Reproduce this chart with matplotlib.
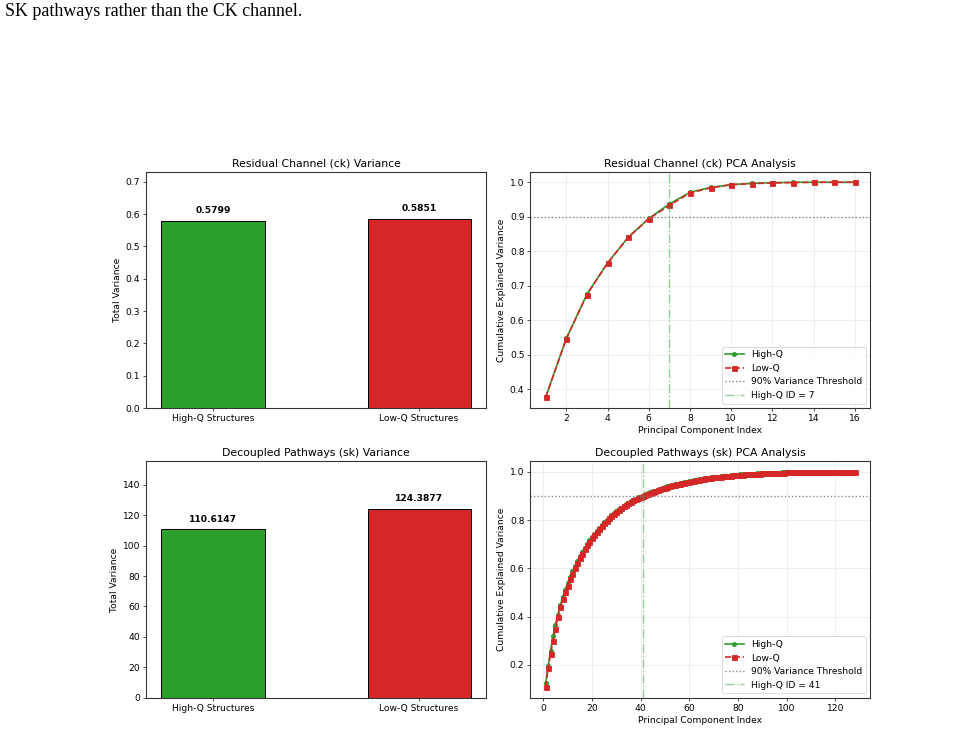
import matplotlib
matplotlib.use("Agg")
import matplotlib.pyplot as plt

# bar data (total variance)
groups = ["High-Q Structures", "Low-Q Structures"]
ck_total = [0.5799, 0.5851]
sk_total = [110.6147, 124.3877]
bar_colors = ["#2ca02c", "#d62728"]

# cumulative explained variance, residual channel (ck)
ck_high = [0.377, 0.547, 0.675, 0.766, 0.840, 0.895, 0.937, 0.971,
           0.985, 0.993, 0.997, 0.999, 1.000, 1.000, 1.000, 1.000]
ck_low = [0.376, 0.546, 0.674, 0.765, 0.840, 0.894, 0.933, 0.969,
          0.984, 0.993, 0.996, 0.998, 0.999, 1.000, 1.000, 1.000]
ck_id = 7

# cumulative explained variance, decoupled pathways (sk), 128 components
sk_high = [0.124, 0.197, 0.259, 0.318, 0.367, 0.408, 0.447, 0.481, 0.512, 0.540,
           0.565, 0.589, 0.611, 0.632, 0.651, 0.669, 0.686, 0.702, 0.717, 0.731,
           0.744, 0.757, 0.769, 0.780, 0.791, 0.801, 0.811, 0.820, 0.829, 0.837,
           0.845, 0.852, 0.859, 0.866, 0.872, 0.878, 0.884, 0.889, 0.894, 0.898,
           0.902, 0.907, 0.911, 0.915, 0.919, 0.923, 0.927, 0.930, 0.934, 0.937,
           0.940, 0.943, 0.946, 0.949, 0.951, 0.954, 0.956, 0.958, 0.960, 0.962,
           0.964, 0.966, 0.968, 0.970, 0.972, 0.973, 0.975, 0.976, 0.978, 0.979,
           0.980, 0.981, 0.982, 0.983, 0.984, 0.985, 0.986, 0.987, 0.988, 0.989,
           0.990, 0.990, 0.991, 0.992, 0.992, 0.993, 0.993, 0.994, 0.994, 0.995,
           0.995, 0.996, 0.996, 0.996, 0.997, 0.997, 0.997, 0.998, 0.998, 0.998,
           0.998, 0.999, 0.999, 0.999, 0.999, 0.999, 0.999, 0.999, 0.999, 0.999,
           1.000, 1.000, 1.000, 1.000, 1.000, 1.000, 1.000, 1.000, 1.000, 1.000,
           1.000, 1.000, 1.000, 1.000, 1.000, 1.000, 1.000, 1.000]
sk_low = [0.108, 0.186, 0.245, 0.300, 0.350, 0.398, 0.440, 0.475, 0.503, 0.528,
          0.554, 0.578, 0.601, 0.622, 0.642, 0.661, 0.679, 0.695, 0.711, 0.725,
          0.739, 0.752, 0.764, 0.776, 0.787, 0.797, 0.807, 0.817, 0.826, 0.834,
          0.842, 0.850, 0.857, 0.864, 0.870, 0.876, 0.882, 0.887, 0.892, 0.897,
          0.901, 0.905, 0.909, 0.913, 0.917, 0.921, 0.925, 0.928, 0.932, 0.935,
          0.938, 0.941, 0.944, 0.947, 0.949, 0.952, 0.954, 0.956, 0.958, 0.960,
          0.962, 0.964, 0.966, 0.968, 0.970, 0.972, 0.973, 0.975, 0.976, 0.978,
          0.979, 0.980, 0.981, 0.982, 0.983, 0.984, 0.985, 0.986, 0.987, 0.988,
          0.989, 0.989, 0.990, 0.991, 0.991, 0.992, 0.992, 0.993, 0.993, 0.994,
          0.994, 0.995, 0.995, 0.996, 0.996, 0.996, 0.997, 0.997, 0.997, 0.998,
          0.998, 0.998, 0.998, 0.999, 0.999, 0.999, 0.999, 0.999, 0.999, 0.999,
          0.999, 0.999, 1.000, 1.000, 1.000, 1.000, 1.000, 1.000, 1.000, 1.000,
          1.000, 1.000, 1.000, 1.000, 1.000, 1.000, 1.000, 1.000]
sk_id = 41

plt.rcParams["font.size"] = 10.9
plt.rcParams["axes.linewidth"] = 1.3
plt.rcParams["axes.edgecolor"] = "#333333"


def bar_panel(ax, vals, title):
    pos = range(len(groups))
    ax.bar(pos, vals, width=0.5, color=bar_colors, edgecolor="black",
           linewidth=1.2)
    ax.set_xticks(list(pos))
    ax.set_xticklabels(groups)
    top = max(vals)
    for p, v in zip(pos, vals):
        ax.text(p, v + top * 0.03, "%.4f" % v, ha="center", va="bottom",
                fontweight="bold")
    ax.set_ylim(0, top * 1.25)
    ax.set_ylabel("Total Variance")
    ax.set_title(title)


def pca_panel(ax, high, low, comp_id, title):
    x = range(1, len(high) + 1)
    ax.plot(x, high, "o-", color="#2ca02c", linewidth=2, markersize=5,
            label="High-Q")
    ax.plot(x, low, "s--", color="#d62728", linewidth=2, markersize=6,
            label="Low-Q")
    ax.axhline(0.9, color="gray", linestyle=":", linewidth=1.6,
               label="90% Variance Threshold")
    ax.axvline(comp_id, color="#2ca02c", linestyle="-.", linewidth=1.7,
               alpha=0.5, label="High-Q ID = %d" % comp_id)
    ax.set_xlabel("Principal Component Index")
    ax.set_ylabel("Cumulative Explained Variance")
    ax.set_title(title)
    ax.grid(True, alpha=0.3)
    ax.legend(loc="lower right")


fig, axes = plt.subplots(2, 2, figsize=(980 / 60, 733 / 60), dpi=60)
plt.subplots_adjust(left=0.149, right=0.888, top=0.766, bottom=0.048,
                    wspace=0.13, hspace=0.224)

bar_panel(axes[0, 0], ck_total, "Residual Channel (ck) Variance")
pca_panel(axes[0, 1], ck_high, ck_low, ck_id, "Residual Channel (ck) PCA Analysis")
bar_panel(axes[1, 0], sk_total, "Decoupled Pathways (sk) Variance")
pca_panel(axes[1, 1], sk_high, sk_low, sk_id, "Decoupled Pathways (sk) PCA Analysis")

# line of the surrounding page text
fig.text(0.005, 1 - 12 / 733, "SK pathways rather than the CK channel.",
         family="Liberation Serif", fontsize=21.5, va="center", ha="left")

fig.savefig("out.png", dpi=60)
